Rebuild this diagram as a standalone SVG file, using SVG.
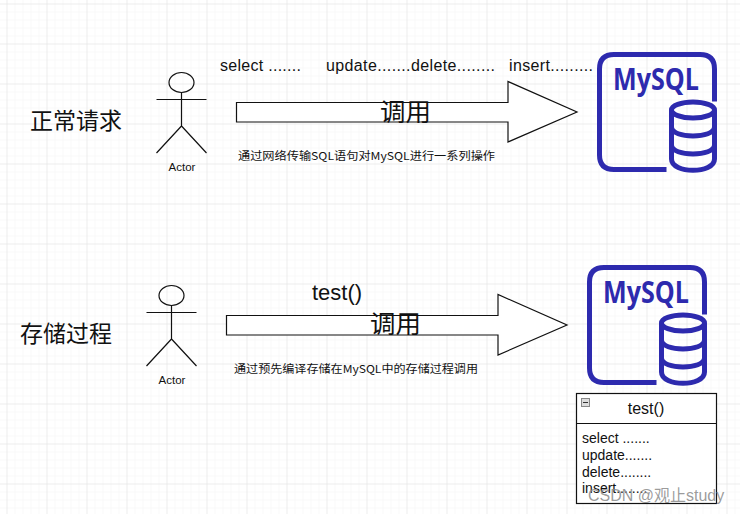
<svg xmlns="http://www.w3.org/2000/svg" width="740" height="514" viewBox="0 0 740 514">
<style>
.t{font-family:"Liberation Sans",Arial,"Noto Sans CJK SC",sans-serif;fill:#111}
.cn{font-family:"Noto Sans CJK SC","Liberation Sans",sans-serif;fill:#111}
.s{fill:none;stroke:#111;stroke-width:1.2}
.a{fill:#fff;stroke:#111;stroke-width:1.2}
.i{fill:none;stroke:#2d2aae;stroke-width:5}
.my{font-family:"Open Sans","Noto Sans",sans-serif;font-weight:700;font-size:30px;fill:#2d2aae}
</style>
<defs>
<pattern id="minor" width="8" height="8" patternUnits="userSpaceOnUse" x="6.5" y="3.5"><path d="M8 0H0V8" fill="none" stroke="#f3f3f3" stroke-width="1"/></pattern>
<pattern id="major" width="40" height="40" patternUnits="userSpaceOnUse" x="6.500" y="3.500"><path d="M40 0H0V40" fill="none" stroke="#e3e3e3" stroke-width="1"/></pattern>
<g id="db">
<path class="i" d="M714.500 101.500V69Q714.500 54.500 700 54.500H614Q599.500 54.500 599.500 69V155Q599.500 169.500 614 169.500H666.500"/>
<text class="my" x="613" y="90" textLength="86" lengthAdjust="spacingAndGlyphs">MySQL</text>
<ellipse class="i" cx="693" cy="110" rx="21.500" ry="8"/>
<path class="i" d="M671.500 110V159C671.500 174 714.500 174 714.500 159V110M671.500 127C671.500 139 714.500 139 714.500 127M671.500 145C671.500 157 714.500 157 714.500 145"/>
</g>
<g id="stick">
<ellipse class="s" cx="181.500" cy="82.500" rx="12.500" ry="10"/>
<path class="s" d="M181.500 92.500V126M156.500 99.500H206.500M156.500 153L181.500 126L206.500 153"/>
</g>
</defs>
<rect width="740" height="514" fill="#fff"/>
<rect width="740" height="514" fill="url(#minor)"/>
<rect width="740" height="514" fill="url(#major)"/>
<g id="label-normal"><text class="cn" x="30" y="129" font-size="23">正常请求</text></g>
<g id="actor-1"><use href="#stick"/><text class="t" x="182" y="171" font-size="11.500" text-anchor="middle">Actor</text></g>
<g id="ops-1">
<text class="t" x="220" y="71" font-size="16" textLength="81">select .......</text>
<text class="t" x="326" y="71" font-size="16" textLength="169">update.......delete........</text>
<text class="t" x="509" y="71" font-size="16" textLength="84">insert.........</text>
</g>
<g id="connectors">
<path id="arrow-1" class="a" d="M236.500 102.500H508V81.500L577 112L508 142V122H236.500Z"/>
<path id="arrow-2" class="a" d="M226.500 315.500H498V294.500L567 325L498 355V335H226.500Z"/>
</g>
<g id="call-1"><text class="cn" x="405.500" y="121" font-size="25.500" text-anchor="middle">调用</text></g>
<g id="note-1"><text class="cn" x="238" y="160" font-size="11" textLength="257" lengthAdjust="spacingAndGlyphs">通过网络传输SQL语句对MySQL进行一系列操作</text></g>
<g id="mysql-1"><use href="#db"/></g>
<g id="label-proc"><text class="cn" x="20" y="342" font-size="23">存储过程</text></g>
<g id="actor-2"><use href="#stick" x="-10" y="213"/><text class="t" x="172" y="384" font-size="11.500" text-anchor="middle">Actor</text></g>
<g id="test-call"><text class="t" x="312" y="300" font-size="22">test()</text></g>
<g id="call-2"><text class="cn" x="395.500" y="333" font-size="25.500" text-anchor="middle">调用</text></g>
<g id="note-2"><text class="cn" x="234" y="373" font-size="11" textLength="244" lengthAdjust="spacingAndGlyphs">通过预先编译存储在MySQL中的存储过程调用</text></g>
<g id="mysql-2"><use href="#db" x="-10" y="213"/></g>
<g id="test-box">
<rect x="576.500" y="393.500" width="140" height="110" fill="#fff" stroke="#111" stroke-width="1.200"/>
<path d="M576.500 423.500H716.500" stroke="#111" stroke-width="1.200"/>
<rect x="581.500" y="398.500" width="8" height="8" fill="#ddd" stroke="#888"/>
<path d="M583 402.500H588" stroke="#333"/>
<text class="t" x="646" y="414" font-size="16" text-anchor="middle">test()</text>
<text class="t" x="582" y="443" font-size="14">select .......</text>
<text class="t" x="582" y="460" font-size="14">update.......</text>
<text class="t" x="582" y="477" font-size="14">delete........</text>
<text class="t" x="582" y="493" font-size="14">insert........</text>
</g>
<g id="watermark"><text x="588" y="501" font-size="16" font-family="'Liberation Sans','Noto Sans CJK SC',sans-serif" fill="#8a8a8a" fill-opacity=".85">CSDN @观止study</text></g>
</svg>
